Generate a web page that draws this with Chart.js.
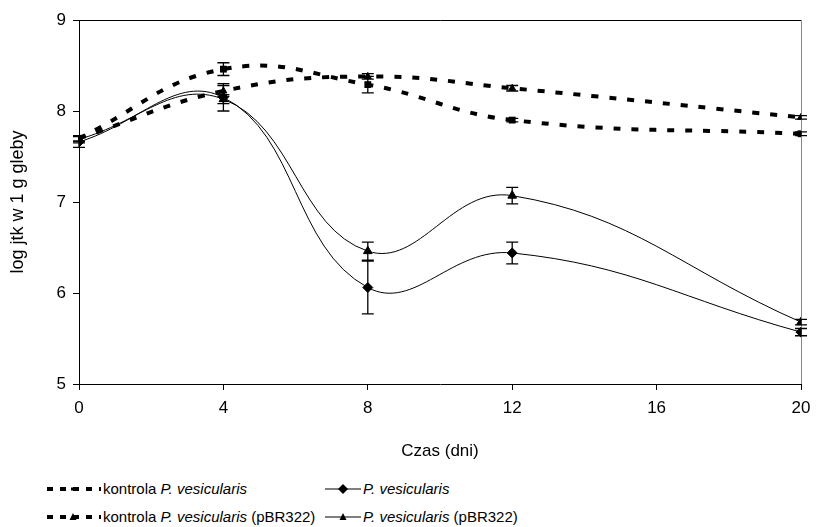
<!DOCTYPE html>
<html>
<head>
<meta charset="utf-8">
<script src="https://cdn.jsdelivr.net/npm/chart.js@4"></script>
<style>
  body { margin: 0; background: #fff; font-family: "Liberation Sans", Arial, sans-serif; }
  #wrap { position: absolute; left: 0; top: 0; width: 816px; height: 466px; }
  .leg { position: absolute; font-size: 15px; color: #000; display: flex; align-items: center; white-space: nowrap; }
  .leg svg { margin-right: 2px; }
</style>
</head>
<body>
<div id="wrap"><canvas id="chart" width="816" height="466"></canvas></div>

<div class="leg" style="left:45px; top:480px;">
  <svg width="56" height="12"><line x1="2" y1="6" x2="56" y2="6" stroke="#000" stroke-width="4" stroke-dasharray="6,7"/><rect x="26" y="4.5" width="3" height="3" fill="#000"/></svg>
  <span>kontrola <i>P. vesicularis</i></span>
</div>
<div class="leg" style="left:45px; top:508px;">
  <svg width="56" height="12"><line x1="2" y1="6" x2="56" y2="6" stroke="#000" stroke-width="4" stroke-dasharray="6,7"/><polygon points="28,2 31.5,9 24.5,9" fill="#000"/></svg>
  <span>kontrola <i>P. vesicularis</i> (pBR322)</span>
</div>
<div class="leg" style="left:325px; top:480px;">
  <svg width="36" height="12"><line x1="0" y1="6" x2="36" y2="6" stroke="#555" stroke-width="1.5"/><polygon points="18,1 23,6 18,11 13,6" fill="#000"/></svg>
  <span><i>P. vesicularis</i></span>
</div>
<div class="leg" style="left:325px; top:508px;">
  <svg width="36" height="12"><line x1="0" y1="6" x2="36" y2="6" stroke="#555" stroke-width="1.5"/><polygon points="18,2 21.5,9 14.5,9" fill="#000"/></svg>
  <span><i>P. vesicularis</i> (pBR322)</span>
</div>

<script>
// dni pomiaru
const days = [0, 4, 8, 12, 20];

// wartosci (log jtk w 1 g gleby)
const kontrolaPv = [7.70, 8.46, 8.29, 7.90, 7.75];
const kontrolaPvErr = [0.03, 0.07, 0.09, 0.02, 0.02];
const kontrolaPbr = [7.70, 8.22, 8.38, 8.25, 7.93];
const kontrolaPbrErr = [0.03, 0.06, 0.03, 0.03, 0.02];
const pv = [7.66, 8.15, 6.06, 6.44, 5.57];
const pvErr = [0.06, 0.15, 0.29, 0.12, 0.04];
const pvPbr = [7.69, 8.13, 6.46, 7.07, 5.68];
const pvPbrErr = [0.04, 0.05, 0.10, 0.09, 0.03];

const xTicks = [0, 4, 8, 12, 16, 20];
const yTicks = [5, 6, 7, 8, 9];

const toXY = arr => days.map((d, i) => ({ x: d, y: arr[i] }));

// slupki bledow
const errorBars = {
  id: 'errorBars',
  afterDatasetsDraw(chart) {
    const ctx = chart.ctx;
    const xs = chart.scales.x, ys = chart.scales.y;
    ctx.save();
    ctx.strokeStyle = '#000';
    ctx.lineWidth = 1.3;
    chart.data.datasets.forEach(ds => {
      if (!ds.errors) return;
      ds.data.forEach((p, i) => {
        const e = ds.errors[i];
        const px = xs.getPixelForValue(p.x);
        const top = ys.getPixelForValue(p.y + e);
        const bot = ys.getPixelForValue(p.y - e);
        ctx.beginPath();
        ctx.moveTo(px, top); ctx.lineTo(px, bot);
        ctx.moveTo(px - 6, top); ctx.lineTo(px + 6, top);
        ctx.moveTo(px - 6, bot); ctx.lineTo(px + 6, bot);
        ctx.stroke();
      });
    });
    ctx.restore();
  }
};

// ramka obszaru wykresu
const frame = {
  id: 'frame',
  beforeDatasetsDraw(chart) {
    const { ctx, chartArea: a } = chart;
    ctx.save();
    ctx.strokeStyle = '#000';
    ctx.lineWidth = 1;
    ctx.beginPath();
    ctx.moveTo(a.left, a.top + 0.5); ctx.lineTo(a.right + 0.5, a.top + 0.5);
    ctx.stroke();
    ctx.strokeStyle = '#888';
    ctx.beginPath();
    ctx.moveTo(a.right + 0.5, a.top); ctx.lineTo(a.right + 0.5, a.bottom);
    ctx.stroke();
    ctx.restore();
  }
};

const tickFont = { family: 'Liberation Sans', size: 17 };

new Chart(document.getElementById('chart'), {
  type: 'line',
  data: {
    datasets: [{
      label: 'kontrola P. vesicularis',
      data: toXY(kontrolaPv), errors: kontrolaPvErr,
      borderColor: '#000', borderWidth: 4, borderDash: [7, 11], tension: 0.42,
      pointStyle: 'rect', pointRadius: 2, backgroundColor: '#000', borderCapStyle: 'butt'
    }, {
      label: 'kontrola P. vesicularis (pBR322)',
      data: toXY(kontrolaPbr), errors: kontrolaPbrErr,
      borderColor: '#000', borderWidth: 4, borderDash: [7, 11], tension: 0.42,
      pointStyle: 'triangle', pointRadius: 4, backgroundColor: '#000', pointBorderWidth: 1
    }, {
      label: 'P. vesicularis',
      data: toXY(pv), errors: pvErr,
      borderColor: '#000', borderWidth: 1, tension: 0.42,
      pointStyle: 'rectRot', pointRadius: 5, backgroundColor: '#000', pointBorderWidth: 1
    }, {
      label: 'P. vesicularis (pBR322)',
      data: toXY(pvPbr), errors: pvPbrErr,
      borderColor: '#000', borderWidth: 1, tension: 0.42,
      pointStyle: 'triangle', pointRadius: 5, backgroundColor: '#000', pointBorderWidth: 1
    }]
  },
  options: {
    responsive: false, animation: false,
    layout: { padding: { top: 20, right: 15, left: 0, bottom: 0 } },
    plugins: { legend: { display: false }, tooltip: { enabled: false } },
    scales: {
      x: {
        type: 'linear', min: 0, max: 20,
        afterBuildTicks: s => { s.ticks = xTicks.map(v => ({ value: v })); },
        afterFit: s => { s.height = 82; s.paddingLeft = 0; s.paddingRight = 0; },
        grid: { drawOnChartArea: false, drawTicks: true, tickLength: 6, color: '#000' },
        border: { color: '#000', width: 1 },
        ticks: { color: '#000', font: tickFont, padding: 8, maxRotation: 0 },
        title: { display: true, text: 'Czas (dni)', color: '#000', font: tickFont, padding: 4 }
      },
      y: {
        min: 5, max: 9,
        afterBuildTicks: s => { s.ticks = yTicks.map(v => ({ value: v })); },
        afterFit: s => { s.width = 79; },
        grid: { drawOnChartArea: false, drawTicks: true, tickLength: 6, color: '#000' },
        border: { color: '#000', width: 1 },
        ticks: { color: '#000', font: tickFont, padding: 7 },
        title: { display: true, text: 'log jtk w 1 g gleby', color: '#000', font: { family: 'Liberation Sans', size: 18 }, padding: { top: 7, bottom: 4 } }
      }
    }
  },
  plugins: [errorBars, frame]
});
</script>
</body>
</html>
